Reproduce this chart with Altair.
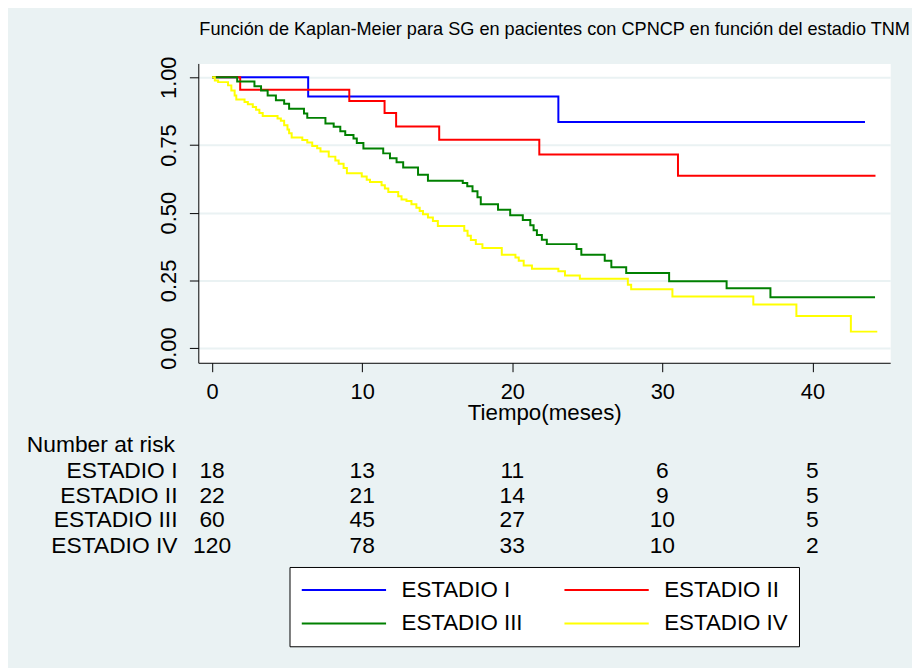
import altair as alt
import pandas as pd

# ---------------- data ----------------
groups = ["ESTADIO I", "ESTADIO II", "ESTADIO III", "ESTADIO IV"]
colors = ["#0000FF", "#FF0000", "#008000", "#FFFF00"]

t_I = [0, 6.4, 23.07, 43.5]
s_I = [1.0, 0.929, 0.835, 0.835]

t_II = [0, 1.87, 9.14, 11.49, 12.26, 15.13, 21.8, 31.04, 44.2]
s_II = [1.0, 0.954, 0.912, 0.868, 0.818, 0.769, 0.715, 0.636, 0.636]

t_III = [0, 1.67, 2.82, 3.26, 3.70, 4.25, 4.80, 5.13, 6.12, 6.34,
         7.55, 8.10, 8.54, 8.87, 9.42, 9.64, 10.08, 11.40, 11.85, 12.29,
         12.73, 13.72, 14.38, 16.7, 17.0, 17.35, 17.68, 17.9, 19.05, 19.86,
         20.7, 21.2, 21.42, 21.64, 21.97, 22.3, 24.28, 24.6, 26.16, 26.6,
         27.59, 30.45, 34.28, 37.2, 44.17]
s_III = [1.0, 0.984, 0.967, 0.951, 0.933, 0.915, 0.902, 0.884, 0.866, 0.850,
         0.829, 0.817, 0.801, 0.787, 0.774, 0.757, 0.737, 0.719, 0.701, 0.686,
         0.667, 0.640, 0.618, 0.610, 0.598, 0.579, 0.557, 0.531, 0.511, 0.491,
         0.473, 0.454, 0.435, 0.418, 0.400, 0.384, 0.366, 0.345, 0.323, 0.299,
         0.277, 0.247, 0.221, 0.188, 0.188]

t_IV = [0, 0.18, 0.40, 1.06, 1.28, 1.50, 1.61, 2.16, 2.38, 2.71,
        2.93, 3.15, 3.37, 4.36, 4.58, 4.80, 5.02, 5.13, 5.30, 6.01,
        6.34, 6.67, 7.0, 7.22, 7.77, 8.21, 8.43, 8.76, 8.98, 9.97,
        10.30, 10.52, 11.29, 11.51, 11.74, 12.40, 12.62, 12.95, 13.28, 13.61,
        13.83, 14.05, 14.38, 14.71, 15.04, 16.8, 17.02, 17.24, 17.57, 18.01,
        19.3, 20.21, 20.43, 20.76, 21.31, 23.07, 23.51, 24.5, 27.7, 27.92,
        30.67, 36.06, 38.93, 42.56, 44.32]
s_IV = [1.0, 0.988, 0.982, 0.970, 0.951, 0.933, 0.918, 0.909, 0.900, 0.890,
        0.880, 0.868, 0.857, 0.848, 0.839, 0.823, 0.807, 0.793, 0.778, 0.768,
        0.759, 0.746, 0.738, 0.726, 0.707, 0.693, 0.681, 0.665, 0.646, 0.634,
        0.622, 0.613, 0.601, 0.589, 0.576, 0.561, 0.549, 0.543, 0.531, 0.518,
        0.506, 0.494, 0.482, 0.469, 0.451, 0.433, 0.415, 0.399, 0.384, 0.370,
        0.345, 0.335, 0.323, 0.305, 0.293, 0.284, 0.268, 0.256, 0.234, 0.217,
        0.191, 0.161, 0.119, 0.061, 0.061]

risk_times = [0, 10, 20, 30, 40]
risk_I = [18, 13, 11, 6, 5]
risk_II = [22, 21, 14, 9, 5]
risk_III = [60, 45, 27, 10, 5]
risk_IV = [120, 78, 33, 10, 2]

title_text = "Función de Kaplan-Meier para SG en pacientes con CPNCP en función del estadio TNM"
x_title = "Tiempo(meses)"
risk_header = "Number at risk"

# ---------------- build tables ----------------
rows = []
for g, ts, ss in zip(groups, [t_I, t_II, t_III, t_IV], [s_I, s_II, s_III, s_IV]):
    for t, s in zip(ts, ss):
        rows.append({"grupo": g, "t": t, "s": s})
df = pd.DataFrame(rows)

FONT = "Liberation Sans"
BG = "#EAF2F3"
W, H = 698, 302
TFS = 23  # risk table font size

x_scale = alt.Scale(domain=[-0.92, 45.18], nice=False, zero=False)
y_scale = alt.Scale(domain=[-0.054, 1.051], nice=False, zero=False)

x_axis = alt.Axis(values=risk_times, format="d", labelFontSize=22, labelFont=FONT,
                  labelColor="black", tickSize=9, tickColor="black", domainColor="black",
                  labelPadding=10, grid=False, labelFlush=False, labelOverlap=False,
                  titleFont=FONT, titleFontSize=22.5, titleFontWeight="normal",
                  titleColor="black", titleY=57, titleBaseline="alphabetic")

lines = alt.Chart(df).mark_line(interpolate="step-after", strokeWidth=2).encode(
    x=alt.X("t:Q", scale=x_scale, title=x_title, axis=x_axis),
    y=alt.Y("s:Q", scale=y_scale, title=None,
            axis=alt.Axis(values=[0, 0.25, 0.5, 0.75, 1.0], format=".2f", labelFontSize=22,
                          labelFont=FONT, labelColor="black", labelAngle=270, labelAlign="center",
                          labelBaseline="alphabetic", labelPadding=14, tickSize=9,
                          tickColor="black", domainColor="black", grid=True, gridColor=BG,
                          gridWidth=2, labelFlush=False, labelOverlap=False)),
    color=alt.Color("grupo:N", scale=alt.Scale(domain=groups, range=colors),
                    legend=alt.Legend(title=None, orient="none", legendX=92, legendY=508,
                                      columns=2, direction="horizontal",
                                      symbolType="M-1,0H7", symbolSize=452,
                                      symbolStrokeWidth=2,
                                      labelFontSize=22.5, labelFont=FONT, labelColor="black",
                                      labelOffset=78, columnPadding=37, rowPadding=10,
                                      padding=11, strokeColor="black", fillColor="white",
                                      labelLimit=0)),
)

layers = [lines]

title_mark = alt.Chart(pd.DataFrame({"txt": [title_text]})).mark_text(
    align="left", baseline="alphabetic", fontSize=18.3, font=FONT, color="black"
).encode(x=alt.value(1), y=alt.value(-29), text="txt:N")
layers.append(title_mark)

header = alt.Chart(pd.DataFrame({"txt": [risk_header]})).mark_text(
    align="left", baseline="middle", fontSize=TFS, font=FONT, color="black"
).encode(x=alt.value(-173), y=alt.value(385), text="txt:N")
layers.append(header)

row_y = [411, 436, 461, 487]
for g, counts, yy in zip(groups, [risk_I, risk_II, risk_III, risk_IV], row_y):
    rdf = pd.DataFrame({"t": risk_times, "n": counts})
    nums = alt.Chart(rdf).mark_text(
        align="center", baseline="middle", fontSize=TFS, font=FONT, color="black"
    ).encode(x=alt.X("t:Q", scale=x_scale, title=x_title, axis=x_axis),
             y=alt.value(yy), text="n:Q")
    lab = alt.Chart(pd.DataFrame({"g": [g]})).mark_text(
        align="right", baseline="middle", fontSize=TFS, font=FONT, color="black"
    ).encode(x=alt.value(-21), y=alt.value(yy), text="g:N")
    layers += [nums, lab]

chart = alt.layer(*layers).properties(
    width=W, height=H,
    autosize=alt.AutoSizeParams(type="none"),
    padding={"left": 192, "top": 53, "right": 22, "bottom": 305},
    background=BG,
).configure_view(fill="white", stroke="transparent")

chart.save("out.html", embed_options={"renderer": "svg", "actions": False})
